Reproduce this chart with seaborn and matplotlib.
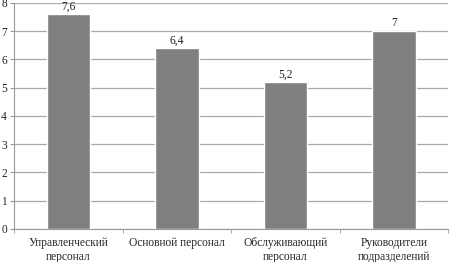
import matplotlib
matplotlib.use('Agg')
import matplotlib.pyplot as plt
import seaborn as sns
import pandas as pd

categories = ['Управленческий\nперсонал', 'Основной персонал',
              'Обслуживающий\nперсонал', 'Руководители\nподразделений']
values = [7.6, 6.4, 5.2, 7]
value_labels = ['7,6', '6,4', '5,2', '7']

sns.set_style('white')
plt.rcParams['font.family'] = 'serif'
plt.rcParams['font.serif'] = ['Liberation Serif', 'DejaVu Serif']

df = pd.DataFrame({'cat': categories, 'val': values})

fig = plt.figure(figsize=(4.5, 2.62), dpi=100)
ax = fig.add_axes([0.031, 0.126, 0.965, 0.863])

sns.barplot(data=df, x='cat', y='val', color='#808080', width=0.4,
            saturation=1, ax=ax, zorder=3)

for i, (v, lab) in enumerate(zip(values, value_labels)):
    ax.text(i, v + 0.06, lab, ha='center', va='bottom', fontsize=8.3, color='#222222')

ax.set_ylim(0, 8)
ax.set_xlim(-0.5, 3.5)
ax.set_yticks(range(0, 9))
ax.yaxis.grid(True, color='#aaaaaa', linewidth=0.9, zorder=0)
ax.set_axisbelow(True)
ax.set_xlabel('')
ax.set_ylabel('')

for s in ['top', 'right']:
    ax.spines[s].set_visible(False)
for s in ['left', 'bottom']:
    ax.spines[s].set_color('#999999')
    ax.spines[s].set_linewidth(0.8)

ax.tick_params(axis='y', labelsize=8.3, length=3, color='#999999', pad=2, left=True)
ax.tick_params(axis='x', labelsize=8.3, length=0, pad=6)
ax.set_xticks([-0.5, 0.5, 1.5, 2.5, 3.5], minor=True)
ax.tick_params(axis='x', which='minor', length=3, color='#999999', bottom=True)

fig.savefig('out.png', dpi=100)
